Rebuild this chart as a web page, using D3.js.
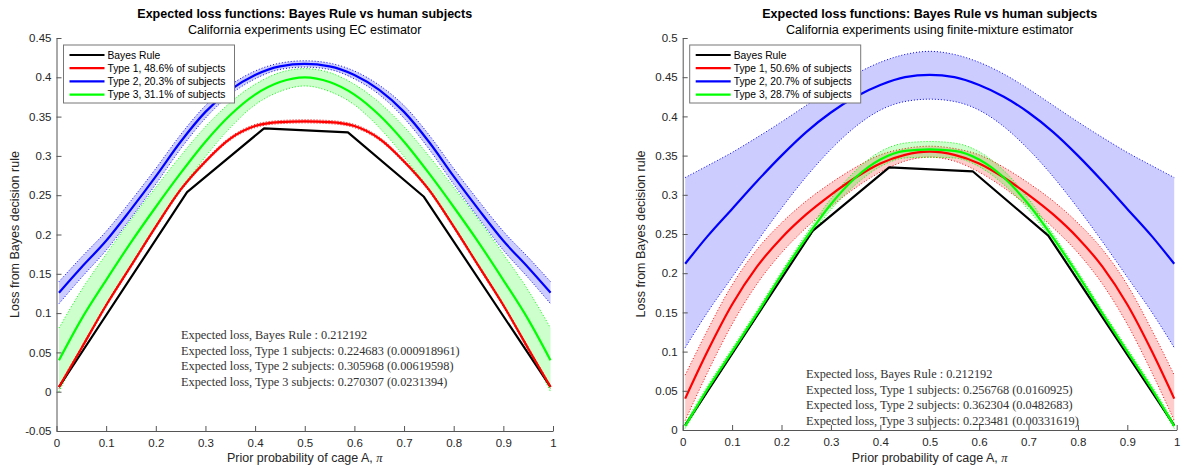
<!DOCTYPE html>
<html>
<head>
<meta charset="utf-8">
<script src="https://cdn.jsdelivr.net/npm/d3@7"></script>
<style>
  html, body { margin: 0; padding: 0; background: #fff; }
  svg { display: block; }
  .tick text { font-family: "Liberation Sans", Arial, sans-serif; font-size: 11.5px; fill: #262626; }
</style>
</head>
<body>
<svg id="chart" width="1186" height="468"></svg>
<script>
// ---- Prior grid and Bayes-rule benchmark ----
const piGrid = [0.005,0.05,0.10,0.15,0.20,0.25,0.30,0.35,0.40,0.45,0.50,0.55,0.60,0.65,0.70,0.75,0.80,0.85,0.90,0.95,0.995];
const bayesPi   = [0.005, 0.263, 0.418, 0.587, 0.740, 0.995];
const bayesLoss = [0.006, 0.254, 0.335, 0.330, 0.248, 0.006];

// ---- EC estimator (left panel) ----
const ecType1   = [0.006,0.055,0.110,0.160,0.210,0.257,0.293,0.322,0.338,0.343,0.344,0.343,0.338,0.322,0.293,0.257,0.210,0.160,0.110,0.055,0.006];
const ecType1Lo = [0.004,0.053,0.108,0.158,0.208,0.255,0.291,0.320,0.336,0.341,0.342,0.341,0.336,0.320,0.291,0.255,0.208,0.158,0.108,0.053,0.004];
const ecType1Hi = [0.008,0.057,0.112,0.162,0.212,0.259,0.295,0.324,0.340,0.345,0.346,0.345,0.340,0.324,0.295,0.259,0.212,0.162,0.112,0.057,0.008];
const ecType2   = [0.126,0.158,0.192,0.232,0.274,0.318,0.356,0.384,0.403,0.414,0.417,0.414,0.403,0.384,0.356,0.318,0.274,0.232,0.192,0.158,0.126];
const ecType2Lo = [0.112,0.145,0.180,0.221,0.264,0.309,0.348,0.378,0.398,0.410,0.413,0.410,0.398,0.378,0.348,0.309,0.264,0.221,0.180,0.145,0.112];
const ecType2Hi = [0.140,0.171,0.204,0.243,0.284,0.327,0.364,0.390,0.408,0.418,0.421,0.418,0.408,0.390,0.364,0.327,0.284,0.243,0.204,0.171,0.140];
const ecType3   = [0.040,0.092,0.142,0.190,0.235,0.278,0.318,0.352,0.378,0.394,0.400,0.394,0.378,0.352,0.318,0.278,0.235,0.190,0.142,0.092,0.040];
const ecType3Lo = [0.000,0.055,0.109,0.161,0.210,0.256,0.299,0.336,0.365,0.382,0.389,0.382,0.365,0.336,0.299,0.256,0.210,0.161,0.109,0.055,0.000];
const ecType3Hi = [0.081,0.129,0.175,0.219,0.260,0.300,0.337,0.368,0.391,0.406,0.411,0.406,0.391,0.368,0.337,0.300,0.260,0.219,0.175,0.129,0.081];

// ---- Finite-mixture estimator (right panel) ----
const fmType1   = [0.040,0.100,0.160,0.208,0.245,0.275,0.300,0.322,0.340,0.351,0.355,0.351,0.340,0.322,0.300,0.275,0.245,0.208,0.160,0.100,0.040];
const fmType1Lo = [0.012,0.073,0.135,0.186,0.226,0.258,0.285,0.309,0.329,0.343,0.348,0.343,0.329,0.309,0.285,0.258,0.226,0.186,0.135,0.073,0.012];
const fmType1Hi = [0.070,0.127,0.185,0.230,0.264,0.292,0.315,0.335,0.351,0.359,0.362,0.359,0.351,0.335,0.315,0.292,0.264,0.230,0.185,0.127,0.070];
const fmType2   = [0.212,0.247,0.282,0.317,0.350,0.380,0.405,0.425,0.440,0.450,0.453,0.450,0.440,0.425,0.405,0.380,0.350,0.317,0.282,0.247,0.212];
const fmType2Lo = [0.105,0.150,0.195,0.240,0.283,0.323,0.358,0.387,0.408,0.419,0.422,0.419,0.408,0.387,0.358,0.323,0.283,0.240,0.195,0.150,0.105];
const fmType2Hi = [0.322,0.337,0.354,0.373,0.393,0.414,0.435,0.454,0.469,0.479,0.483,0.479,0.469,0.454,0.435,0.414,0.393,0.373,0.354,0.337,0.322];
const fmType3   = [0.005,0.052,0.100,0.148,0.198,0.245,0.288,0.322,0.345,0.356,0.358,0.356,0.345,0.322,0.288,0.245,0.198,0.148,0.100,0.052,0.005];
const fmType3Lo = [0.002,0.048,0.096,0.144,0.194,0.240,0.281,0.313,0.336,0.347,0.348,0.347,0.336,0.313,0.281,0.240,0.194,0.144,0.096,0.048,0.002];
const fmType3Hi = [0.009,0.056,0.104,0.152,0.202,0.250,0.295,0.331,0.355,0.366,0.368,0.366,0.355,0.331,0.295,0.250,0.202,0.152,0.104,0.056,0.009];

// ---- Legend labels and summary text ----
const ecLegend = ["Bayes Rule", "Type 1, 48.6% of subjects", "Type 2, 20.3% of subjects", "Type 3, 31.1% of subjects"];
const fmLegend = ["Bayes Rule", "Type 1, 50.6% of subjects", "Type 2, 20.7% of subjects", "Type 3, 28.7% of subjects"];
const ecNotes = [
  "Expected loss, Bayes Rule : 0.212192",
  "Expected loss, Type 1 subjects: 0.224683 (0.000918961)",
  "Expected loss, Type 2 subjects: 0.305968 (0.00619598)",
  "Expected loss, Type 3 subjects: 0.270307 (0.0231394)"
];
const fmNotes = [
  "Expected loss, Bayes Rule : 0.212192",
  "Expected loss, Type 1 subjects: 0.256768 (0.0160925)",
  "Expected loss, Type 2 subjects: 0.362304 (0.0482683)",
  "Expected loss, Type 3 subjects: 0.223481 (0.00331619)"
];

// ---- Tick values ----
const xTicks = [0,0.1,0.2,0.3,0.4,0.5,0.6,0.7,0.8,0.9,1];
const ecYTicks = [-0.05,0,0.05,0.1,0.15,0.2,0.25,0.3,0.35,0.4,0.45];
const fmYTicks = [0,0.05,0.1,0.15,0.2,0.25,0.3,0.35,0.4,0.45,0.5];

const seriesColors = ["#000000", "#ff0000", "#0000ff", "#00ff00"];
const SANS = '"Liberation Sans", Arial, Helvetica, sans-serif';
const SERIF = '"Liberation Serif", "Times New Roman", serif';

const svg = d3.select("#chart");

function drawPanel(cfg) {
  const x = d3.scaleLinear().domain([0, 1]).range([cfg.left, cfg.right]);
  const y = d3.scaleLinear().domain(cfg.yDomain).range([cfg.bottom, cfg.top]);
  const g = svg.append("g");

  const clipId = "clip-" + cfg.id;
  g.append("clipPath").attr("id", clipId).append("rect")
    .attr("x", cfg.left).attr("y", cfg.top - 2)
    .attr("width", cfg.right - cfg.left + 2).attr("height", cfg.bottom - cfg.top + 2);
  const plot = g.append("g").attr("clip-path", `url(#${clipId})`);

  const curve = d3.curveMonotoneX;
  const area = d3.area().curve(curve)
    .x((d, i) => x(piGrid[i])).y0(d => y(d[0])).y1(d => y(d[1]));
  const line = d3.line().curve(curve).x((d, i) => x(piGrid[i])).y(d => y(d));

  // Confidence bands: light fill with dotted edges
  cfg.bands.forEach(b => {
    const pairs = b.lo.map((v, i) => [v, b.hi[i]]);
    plot.append("path").attr("d", area(pairs))
      .attr("fill", b.color).attr("fill-opacity", 0.2).attr("stroke", "none");
    [b.lo, b.hi].forEach(edge => {
      plot.append("path").attr("d", line(edge))
        .attr("fill", "none").attr("stroke", b.color)
        .attr("stroke-width", 1).attr("stroke-dasharray", "1,2");
    });
  });

  // Bayes rule benchmark (piecewise linear)
  const bayesLine = d3.line().x(d => x(d[0])).y(d => y(d[1]));
  plot.append("path").attr("d", bayesLine(bayesPi.map((p, i) => [p, bayesLoss[i]])))
    .attr("fill", "none").attr("stroke", seriesColors[0]).attr("stroke-width", 2.2)
    .attr("stroke-linejoin", "round");

  // Subject-type loss curves
  cfg.lines.forEach((vals, k) => {
    plot.append("path").attr("d", line(vals))
      .attr("fill", "none").attr("stroke", seriesColors[k + 1]).attr("stroke-width", 2.2);
  });

  // Axes with inward ticks, no box
  const fmt = d => String(+d.toFixed(2));
  const xAxis = d3.axisBottom(x).tickValues(xTicks).tickFormat(fmt)
    .tickSizeInner(-5).tickSizeOuter(0).tickPadding(8);
  const yAxis = d3.axisLeft(y).tickValues(cfg.yTicks).tickFormat(fmt)
    .tickSizeInner(-5).tickSizeOuter(0).tickPadding(5);
  const gx = g.append("g").attr("transform", `translate(0,${cfg.bottom})`).call(xAxis);
  const gy = g.append("g").attr("transform", `translate(${cfg.left},0)`).call(yAxis);
  [gx, gy].forEach(a => {
    a.select(".domain").attr("stroke", "#555").attr("stroke-width", 1);
    a.selectAll(".tick line").attr("stroke", "#555").attr("stroke-width", 1);
  });
  gx.selectAll(".tick text").attr("dy", "0.71em");

  const cx = (cfg.left + cfg.right) / 2;
  // Titles
  g.append("text").attr("x", cx).attr("y", 18).attr("text-anchor", "middle")
    .attr("font-family", SANS).attr("font-weight", "bold").attr("font-size", 12.5)
    .attr("fill", "#000").text("Expected loss functions: Bayes Rule vs human subjects");
  g.append("text").attr("x", cx).attr("y", 34).attr("text-anchor", "middle")
    .attr("font-family", SANS).attr("font-size", 12.5)
    .attr("fill", "#000").text(cfg.subtitle);

  // Axis labels
  const xl = g.append("text").attr("x", cx).attr("y", 462).attr("text-anchor", "middle")
    .attr("font-family", SANS).attr("font-size", 12.5).attr("fill", "#262626");
  xl.append("tspan").text("Prior probability of cage A, ");
  xl.append("tspan").attr("font-family", SERIF).attr("font-style", "italic").text("π");
  g.append("text")
    .attr("transform", `translate(${cfg.left - 38},${(cfg.top + cfg.bottom) / 2}) rotate(-90)`)
    .attr("text-anchor", "middle").attr("font-family", SANS).attr("font-size", 12.5)
    .attr("fill", "#262626").text("Loss from Bayes decision rule");

  // Summary text block, sized so the longest line spans the target width
  const notes = cfg.notes.map((t, i) => g.append("text")
    .attr("x", cfg.noteX).attr("y", cfg.noteY + i * 15.7)
    .attr("font-family", SERIF).attr("font-size", 12).attr("fill", "#333").text(t));
  const w = notes[1].node().getComputedTextLength();
  const fs = 12 * cfg.noteWidth / w;
  notes.forEach(n => n.attr("font-size", fs));

  // Legend
  const lg = g.append("g").attr("transform", `translate(${cfg.left + 7},${cfg.top + 7})`);
  lg.append("rect").attr("x", 0).attr("y", 0).attr("width", 171).attr("height", 58)
    .attr("fill", "#fff").attr("stroke", "#777").attr("stroke-width", 1);
  cfg.legend.forEach((t, i) => {
    const ly = 10 + i * 13.2;
    lg.append("line").attr("x1", 6).attr("x2", 41).attr("y1", ly).attr("y2", ly)
      .attr("stroke", seriesColors[i]).attr("stroke-width", 2.2);
    lg.append("text").attr("x", 44).attr("y", ly + 3.6)
      .attr("font-family", SANS).attr("font-size", 10.3).attr("fill", "#000").text(t);
  });
}

drawPanel({
  id: "ec", left: 56.5, right: 553, top: 38, bottom: 431, yDomain: [-0.05, 0.45],
  yTicks: ecYTicks, subtitle: "California experiments using EC estimator",
  bands: [
    { lo: ecType1Lo, hi: ecType1Hi, color: seriesColors[1] },
    { lo: ecType2Lo, hi: ecType2Hi, color: seriesColors[2] },
    { lo: ecType3Lo, hi: ecType3Hi, color: seriesColors[3] }
  ],
  lines: [ecType1, ecType2, ecType3],
  legend: ecLegend, notes: ecNotes, noteX: 181, noteY: 339, noteWidth: 279
});

drawPanel({
  id: "fm", left: 682.7, right: 1176.7, top: 38, bottom: 430, yDomain: [0, 0.5],
  yTicks: fmYTicks, subtitle: "California experiments using finite-mixture estimator",
  bands: [
    { lo: fmType1Lo, hi: fmType1Hi, color: seriesColors[1] },
    { lo: fmType2Lo, hi: fmType2Hi, color: seriesColors[2] },
    { lo: fmType3Lo, hi: fmType3Hi, color: seriesColors[3] }
  ],
  lines: [fmType1, fmType2, fmType3],
  legend: fmLegend, notes: fmNotes, noteX: 806, noteY: 378, noteWidth: 267
});
</script>
</body>
</html>
